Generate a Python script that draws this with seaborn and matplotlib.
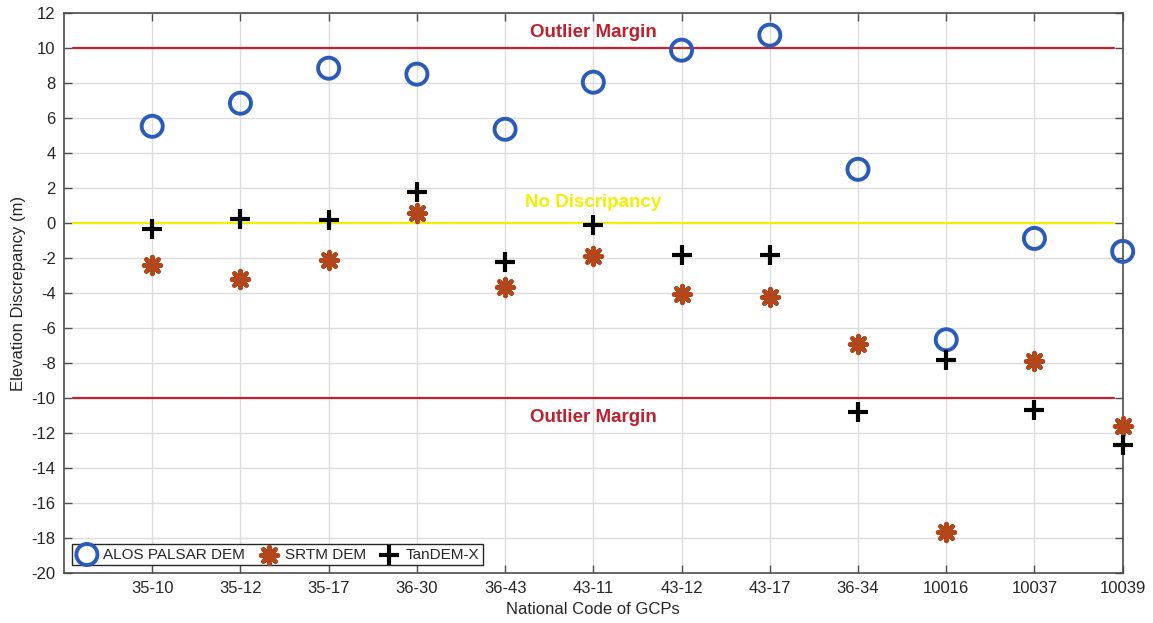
import matplotlib
matplotlib.use("Agg")
import matplotlib.pyplot as plt
import seaborn as sns
import pandas as pd

categories = ["35-10", "35-12", "35-17", "36-30", "36-43", "43-11",
              "43-12", "43-17", "36-34", "10016", "10037", "10039"]
alos = [5.53, 6.85, 8.85, 8.51, 5.36, 8.05, 9.88, 10.74, 3.07, -6.67, -0.88, -1.62]
srtm = [-2.42, -3.17, -2.14, 0.55, -3.63, -1.91, -4.08, -4.2, -6.92, -17.67, -7.88, -11.58]
tandem = [-0.36, 0.21, 0.15, 1.75, -2.2, -0.14, -1.85, -1.85, -10.8, -7.8, -10.7, -12.7]
y_ticks = list(range(-20, 13, 2))
outlier_levels = [10, -10]

sns.set_theme(style="whitegrid")
plt.rcParams['font.family'] = ['Liberation Sans', 'DejaVu Sans']
plt.rcParams['axes.unicode_minus'] = False

fig = plt.figure(figsize=(11.53, 6.23), dpi=100)
ax = fig.add_axes([0.0555, 0.0803, 0.9182, 0.8987])

df = pd.DataFrame({"cat": categories, "alos": alos, "srtm": srtm, "tandem": tandem})

for lvl in outlier_levels:
    ax.plot([-0.9, 10.9], [lvl, lvl], color="#C8202F", lw=1.6, zorder=2)
ax.plot([-0.9, 10.9], [0, 0], color="#F2F000", lw=1.6, zorder=2)

sns.scatterplot(data=df, x="cat", y="alos", marker="o", s=230, facecolor="none",
                edgecolor="#2B5BB8", linewidth=2.8, ax=ax, label="ALOS PALSAR DEM",
                zorder=3, clip_on=False)
sns.scatterplot(data=df, x="cat", y="srtm", marker=(8, 2, 0), s=150, color="#B4461C",
                edgecolor="#B4461C", linewidth=3.2, ax=ax, label="SRTM DEM",
                zorder=3, clip_on=False)
sns.scatterplot(data=df, x="cat", y="tandem", marker="+", s=200, color="black",
                linewidth=3.0, ax=ax, label="TanDEM-X", zorder=4, clip_on=False)

ax.set_xlim(-1, 11)
ax.set_ylim(-20, 12)
ax.set_yticks(y_ticks)
ax.set_xticks(range(len(categories)))
ax.set_xticklabels(categories)

ax.text(5, 10.9, "Outlier Margin", color="#C0202E", fontsize=13.5, fontweight="bold",
        ha="center", va="center")
ax.text(5, -11.1, "Outlier Margin", color="#C0202E", fontsize=13.5, fontweight="bold",
        ha="center", va="center")
ax.text(5, 1.2, "No Discripancy", color="#F2F000", fontsize=13.5, fontweight="bold",
        ha="center", va="center")

ax.set_xlabel("National Code of GCPs", fontsize=12, color="#262626", labelpad=4)
ax.set_ylabel("Elevation Discrepancy (m)", fontsize=12, color="#262626", labelpad=4)

ax.grid(True, color="#DCDCDC", lw=1.0)
ax.set_axisbelow(True)
for sp in ax.spines.values():
    sp.set_visible(True)
    sp.set_color("#4D4D4D")
    sp.set_linewidth(1.2)
ax.tick_params(axis="both", which="both", direction="in", length=6, width=1.0,
               color="#4D4D4D", labelsize=12, labelcolor="#262626",
               top=True, right=True, bottom=True, left=True, pad=6)

leg = ax.legend(loc="lower left", ncol=3, fontsize=11, frameon=True, fancybox=False,
                edgecolor="#262626", borderaxespad=0.5, handletextpad=0.3,
                columnspacing=0.8, borderpad=0.25, handlelength=1.5)
leg.get_frame().set_linewidth(1.0)
leg.get_frame().set_alpha(1)

fig.savefig("out.png", dpi=100)
